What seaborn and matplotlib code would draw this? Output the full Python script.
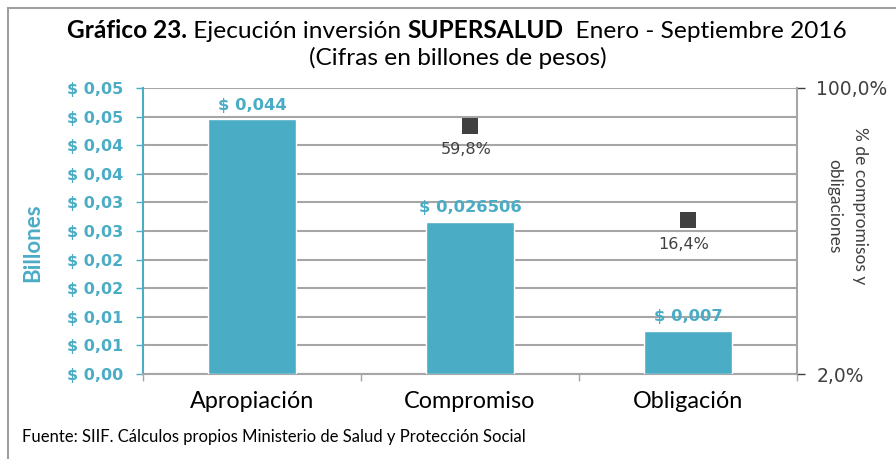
import matplotlib
matplotlib.use("Agg")
import matplotlib.pyplot as plt
import matplotlib.patches as mpatches
from matplotlib.ticker import FixedLocator, FuncFormatter, NullLocator
import numpy as np
import seaborn as sns

# datos
categorias = ["Apropiación", "Compromiso", "Obligación"]
valores = [0.0445, 0.0266, 0.0075]
etiquetas_valor = ["$ 0,044", "$ 0,026506", "$ 0,007"]
pct_x = [1, 2]
pct_valores = [59.8, 16.4]
pct_etiquetas = ["59,8%", "16,4%"]

TEAL = "#4BACC6"
GRIS = "#404040"
GRID = "#A6A6A6"

sns.set_theme(style="white")
plt.rcParams["font.family"] = ["DejaVu Sans"]

fig = plt.figure(figsize=(8.96, 4.59), dpi=100)
ax = fig.add_axes([143 / 896, 1 - 374 / 459, (797 - 143) / 896, (374 - 88) / 459])

sns.barplot(x=categorias, y=valores, color=TEAL, width=0.4, saturation=1, ax=ax, zorder=3)
ax.set_ylim(0, 0.05)
ax.set_xlim(-0.5, 2.5)
ax.yaxis.set_major_locator(FixedLocator(np.linspace(0, 0.05, 11)))
ax.yaxis.set_major_formatter(FuncFormatter(
    lambda v, p: "$ " + f"{np.floor(v * 100 + 0.5 + 1e-9) / 100:.2f}".replace(".", ",")))
ax.grid(axis="y", color=GRID, linewidth=1.5, zorder=0)
ax.set_axisbelow(True)
for lab in ax.get_yticklabels():
    lab.set_fontweight("bold")
ax.tick_params(axis="y", colors=TEAL, labelsize=11.5, length=5, width=1, direction="out", left=True, pad=9)
ax.set_xlabel("")
ax.set_xticks([0, 1, 2])
ax.set_xticklabels(categorias, family="Lato", fontsize=16.8, color="black")
ax.xaxis.set_minor_locator(FixedLocator([-0.5, 0.5, 1.5, 2.5]))
ax.tick_params(axis="x", which="major", length=0, pad=12)
ax.tick_params(axis="x", which="minor", length=5, width=1, color=GRID, bottom=True)
ax.set_ylabel("Billones", family="Lato", fontsize=16, fontweight="bold", color=TEAL, va="center")
ax.yaxis.set_label_coords((33 - 143) / 654, (374 - 243) / 286)

ax.spines["top"].set_visible(False)
ax.spines["left"].set_color(TEAL)
ax.spines["left"].set_linewidth(1.5)
ax.spines["bottom"].set_color(GRID)
ax.spines["bottom"].set_linewidth(1.5)
ax.spines["right"].set_visible(False)

for i, (v, t) in enumerate(zip(valores, etiquetas_valor)):
    ax.annotate(t, (i, v), xytext=(0, 5), textcoords="offset points", ha="center", va="bottom",
                fontsize=11.8, fontweight="bold", color=TEAL)

# eje secundario (porcentajes)
ax2 = ax.twinx()
ax2.set_yscale("log")
ax2.set_ylim(2, 100)
ax2.yaxis.set_major_locator(FixedLocator([2, 100]))
ax2.yaxis.set_minor_locator(NullLocator())
ax2.yaxis.set_major_formatter(FuncFormatter(lambda v, p: f"{v:.1f}%".replace(".", ",")))
ax2.tick_params(axis="y", colors=GRIS, labelsize=13.5, length=6, width=1, right=True, pad=8)
for s in ["top", "left", "bottom"]:
    ax2.spines[s].set_visible(False)
ax2.spines["right"].set_color(GRID)
ax2.spines["right"].set_linewidth(1.5)
ax2.set_ylabel("% de compromisos y\nobligaciones", family="Lato", fontsize=12.5, color=GRIS,
               rotation=-90, linespacing=1.7, va="center", ha="center")
ax2.yaxis.set_label_coords((847 - 143) / 654, (374 - 206) / 286)
sns.scatterplot(x=pct_x, y=pct_valores, marker="s", s=130, color=GRIS, edgecolor="none", ax=ax2, zorder=4)
for x, v, t in zip(pct_x, pct_valores, pct_etiquetas):
    ax2.annotate(t, (x, v), xytext=(-3, -12), textcoords="offset points", ha="center", va="top",
                 fontsize=11.5, color=GRIS)

# titulo en partes
partes = [("Gráfico 23.", "bold"), (" Ejecución inversión ", "normal"), ("SUPERSALUD", "bold"),
          ("  Enero - Septiembre 2016", "normal")]
renderer = fig.canvas.get_renderer()
textos = []
for txt, w in partes:
    textos.append(fig.text(0, 1 - 38 / 459, txt, family="Lato", fontsize=17.6, fontweight=w,
                           ha="left", va="baseline", color="black"))
anchos = [t.get_window_extent(renderer).width for t in textos]
x0 = 457 - sum(anchos) / 2
for t, a in zip(textos, anchos):
    t.set_x(x0 / 896)
    x0 += a
fig.text(458 / 896, 1 - 58 / 459, "(Cifras en billones de pesos)", family="Lato",
         fontsize=17.6, ha="center", va="center", color="black")

fig.text(22 / 896, 1 - 437 / 459, "Fuente: SIIF. Cálculos propios Ministerio de Salud y Protección Social",
         family="Lato", fontsize=12, ha="left", va="center", color="black")

# marco
fig.patches.append(mpatches.Rectangle((8 / 896, -0.1), 1.0, 1 - 8 / 459 + 0.1, transform=fig.transFigure,
                                      fill=False, edgecolor="#A0A0A0", linewidth=1.5))

fig.savefig("out.png", dpi=100)
